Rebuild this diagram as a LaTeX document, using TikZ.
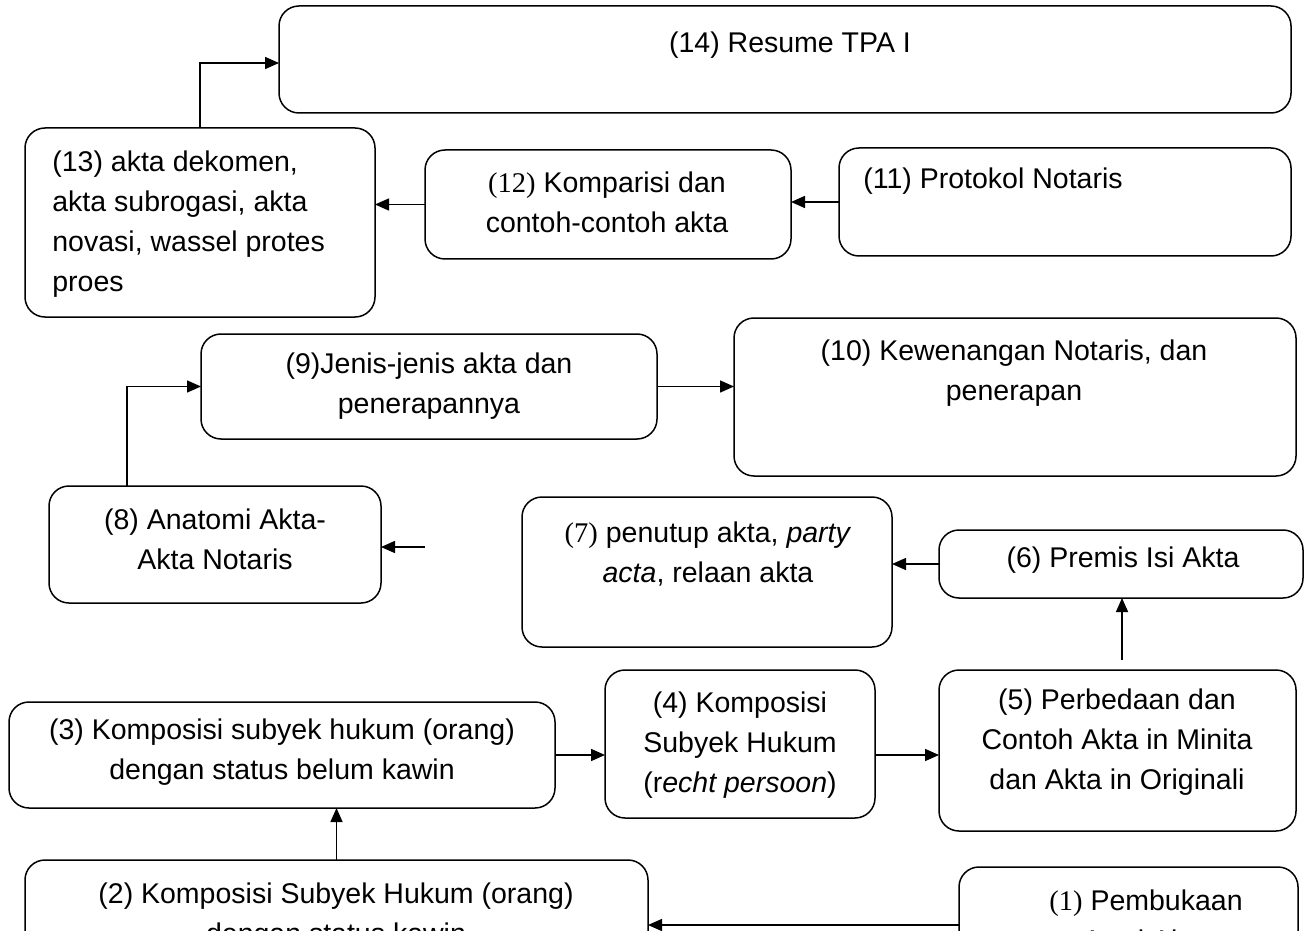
\documentclass[tikz,border=0pt]{standalone}
\usepackage{fontspec}
\setmainfont{Liberation Sans}
\newfontfamily\tnr{Liberation Serif}
\usetikzlibrary{arrows.meta}
\begin{document}
\begin{tikzpicture}[x=0.5pt,y=-0.5pt,
 box/.style={draw, line width=0.75pt, rounded corners=10pt, inner sep=0pt, outer sep=0pt},
 txt/.style={inner sep=0pt, align=center, font=\fontsize{14.25}{20}\selectfont},
 arr/.style={line width=0.75pt, -{Triangle[length=7pt,width=6pt]}}]
\useasboundingbox (0,0) rectangle (1304,930);
\clip (0,0) rectangle (1304,930);
% boxes
\node[box, minimum width=506pt, minimum height=53.5pt] (b14) at (785,59.5) {};
\node[box, minimum width=175pt, minimum height=94.5pt] (b13) at (200,222.5) {};
\node[box, minimum width=183pt, minimum height=54.5pt] (b12) at (608,204.5) {};
\node[box, minimum width=226pt, minimum height=54pt] (b11) at (1065,202) {};
\node[box, minimum width=228pt, minimum height=52.5pt] (b9) at (429,386.5) {};
\node[box, minimum width=281pt, minimum height=79pt] (b10) at (1015,397) {};
\node[box, minimum width=166pt, minimum height=58.5pt] (b8) at (215,544.5) {};
\node[box, minimum width=185pt, minimum height=75pt] (b7) at (707,572) {};
\node[box, minimum width=182pt, minimum height=34pt] (b6) at (1121,564) {};
\node[box, minimum width=273pt, minimum height=53pt] (b3) at (282,755) {};
\node[box, minimum width=135pt, minimum height=74pt] (b4) at (740,744) {};
\node[box, minimum width=178.5pt, minimum height=80.5pt] (b5) at (1117.5,750.5) {};
\node[box, minimum width=311.5pt, minimum height=70pt] (b2) at (336.5,930) {};
\node[box, minimum width=169.5pt, minimum height=66.5pt] (b1) at (1128.5,933.5) {};
% texts
\node[txt] (t14) at (790,45) {(14) Resume TPA I};
\node[txt, anchor=west, align=left] (t13) at (52,224) {(13) akta dekomen,\\akta subrogasi, akta\\novasi, wassel protes\\proes};
\node[txt] (t12) at (607,202.5) {{\tnr(12)} Komparisi dan\\contoh-contoh akta};
\node[txt, anchor=west] (t11) at (863,181) {(11) Protokol Notaris};
\node[txt] (t9) at (429,386) {(9)Jenis-jenis akta dan\\penerapannya};
\node[txt] (t10) at (1014,373) {(10) Kewenangan Notaris, dan\\penerapan};
\node[txt] (t8) at (215,539) {(8) Anatomi Akta-\\Akta Notaris};
\node[txt] (t7) at (708,553.5) {{\tnr(7)} penutup akta, \textit{party}\\\textit{acta}, relaan akta};
\node[txt] (t6) at (1123,560) {(6) Premis Isi Akta};
\node[txt] (t3) at (282,752) {(3) Komposisi subyek hukum (orang)\\dengan status belum kawin};
\node[txt] (t4) at (740,745) {(4) Komposisi\\Subyek Hukum\\(r\textit{echt persoon})};
\node[txt] (t5) at (1117,742) {(5) Perbedaan dan\\Contoh Akta in Minita\\dan Akta in Originali};
\node[txt] (t2) at (336,916) {(2) Komposisi Subyek Hukum (orang)\\dengan status kawin};
\node[txt] (t1) at (1146,920) {{\tnr(1)} Pembukaan\\Awal Akta};
% connectors
\coordinate (f8) at (425,547);
\coordinate (f5) at (1122,660);
\draw[arr] (b13.north) |- ([yshift=-1.75pt]b14.west);
\draw[arr] (b12.west) -- (b12.west -| b13.east);
\draw[arr] (b11.west) -- (b11.west -| b12.east);
\draw[arr] ([xshift=-44pt]b8.north) |- (b9.west);
\draw[arr] (b9.east) -- (b9.east -| b10.west);
\draw[arr] (f8) -- (f8 -| b8.east);
\draw[arr] (b6.west) -- (b6.west -| b7.east);
\draw[arr] (f5) -- (f5 |- b6.south);
\draw[arr] (b3.east) -- (b3.east -| b4.west);
\draw[arr] (b4.east |- b3.east) -- (b3.east -| b5.west);
\draw[arr] (b2.north) -- (b2.north |- b3.south);
\draw[arr] (b1.west |- 0,925) -- (b2.east |- 0,925);
\end{tikzpicture}
\end{document}
